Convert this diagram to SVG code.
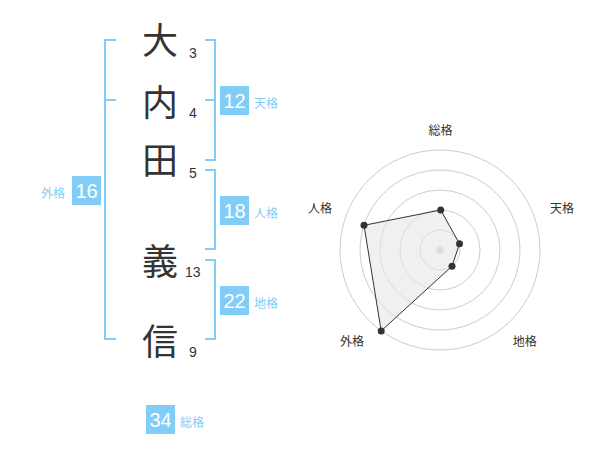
<svg xmlns="http://www.w3.org/2000/svg" width="600" height="470" viewBox="0 0 600 470">
<style>
.ch{font-family:"Noto Sans CJK JP","Noto Sans CJK SC",sans-serif;font-size:36px;fill:#333;text-anchor:middle}
.st{font-family:"Liberation Sans",Arial,sans-serif;font-size:14px;fill:#333}
.br{fill:none;stroke:#82cdf7;stroke-width:2}
.bx{fill:#82cdf7}
.bn{font-family:"Liberation Sans",Arial,sans-serif;font-size:20px;fill:#fff;text-anchor:middle}
.bl{font-family:"Noto Sans CJK JP","Noto Sans CJK SC",sans-serif;font-size:12px;fill:#82cdf7}
.rl{font-family:"Noto Sans CJK JP","Noto Sans CJK SC",sans-serif;font-size:12px;fill:#333;text-anchor:middle}
.rc{fill:none;stroke:#ccc;stroke-width:1}
</style>
<rect width="600" height="470" fill="#fff"/>
<g id="name">
<text class="ch" x="160" y="54">大</text>
<text class="ch" x="160" y="116">内</text>
<text class="ch" x="160" y="174">田</text>
<text class="ch" x="160" y="275">義</text>
<text class="ch" x="160" y="355">信</text>
<text class="st" x="189" y="58">3</text>
<text class="st" x="189" y="118">4</text>
<text class="st" x="189" y="178">5</text>
<text class="st" x="185" y="277">13</text>
<text class="st" x="189" y="357">9</text>
</g>
<g id="connectors">
<path class="br" d="M116,40 H105 V339 H116 M105,100 H116"/>
<path class="br" d="M205,40 H215 V160 H205 M215,100 H205"/>
<path class="br" d="M205,170 H215 V249 H205"/>
<path class="br" d="M205,260 H215 V339 H205"/>
</g>
<g id="tenkaku">
<rect class="bx" x="220" y="86" width="29" height="29"/>
<text class="bn" x="234.5" y="108">12</text>
<text class="bl" x="254" y="108">天格</text>
</g>
<g id="jinkaku">
<rect class="bx" x="220" y="196" width="29" height="29"/>
<text class="bn" x="234.5" y="218">18</text>
<text class="bl" x="254" y="218">人格</text>
</g>
<g id="chikaku">
<rect class="bx" x="220" y="286" width="29" height="29"/>
<text class="bn" x="234.5" y="308">22</text>
<text class="bl" x="254" y="308">地格</text>
</g>
<g id="gaikaku">
<rect class="bx" x="72" y="176" width="29" height="29"/>
<text class="bn" x="86.5" y="198">16</text>
<text class="bl" x="41" y="198">外格</text>
</g>
<g id="soukaku">
<rect class="bx" x="146" y="405" width="29" height="29"/>
<text class="bn" x="160.5" y="427">34</text>
<text class="bl" x="180" y="427">総格</text>
</g>
<g id="radar">
<circle class="rc" cx="440" cy="250" r="20"/>
<circle class="rc" cx="440" cy="250" r="40"/>
<circle class="rc" cx="440" cy="250" r="60"/>
<circle class="rc" cx="440" cy="250" r="80"/>
<circle class="rc" cx="440" cy="250" r="100"/>
<circle cx="440" cy="250" r="3.5" fill="#ccc"/>
<polygon points="440.7,210 459.5,243.8 452,266.2 381.2,330.9 364,225.3" fill="#e6e6e6" fill-opacity="0.6" stroke="#333" stroke-width="1"/>
<circle cx="440.7" cy="210" r="3.5" fill="#333"/>
<circle cx="459.5" cy="243.8" r="3.5" fill="#333"/>
<circle cx="452" cy="266.2" r="3.5" fill="#333"/>
<circle cx="381.2" cy="330.9" r="3.5" fill="#333"/>
<circle cx="364" cy="225.3" r="3.5" fill="#333"/>
<text class="rl" x="440.5" y="135">総格</text>
<text class="rl" x="562" y="213">天格</text>
<text class="rl" x="524.7" y="346">地格</text>
<text class="rl" x="352" y="346">外格</text>
<text class="rl" x="320" y="213">人格</text>
</g>
</svg>
